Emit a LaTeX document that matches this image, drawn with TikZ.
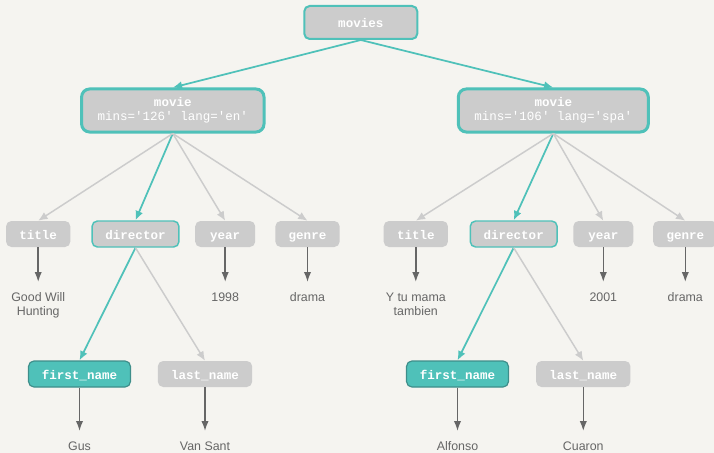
\documentclass[tikz,border=0pt]{standalone}
\usepackage{xcolor}
\usepackage{fontspec}
\setmainfont{Liberation Sans}
\setsansfont{Liberation Sans}
\setmonofont{Liberation Mono}
\usepackage{tikz}
\usetikzlibrary{shapes,arrows.meta,positioning}

\definecolor{bggray}{HTML}{F5F4F0}
\definecolor{boxgray}{HTML}{CCCCCC}
\definecolor{linegray}{HTML}{CCCCCC}
\definecolor{tealline}{HTML}{4FC1B9}
\definecolor{tealdark}{HTML}{3E8E8A}
\definecolor{textgray}{HTML}{666666}

\begin{document}
\begin{tikzpicture}[x=0.75pt,y=-0.75pt]
        % Setup the styles for the elements
        \tikzset{base style/.style={rectangle,
                                    rounded corners=4pt,
                                    fill=boxgray,
                                    text=white,
                                    font=\fontsize{9.4}{10.2}\selectfont\ttfamily\bfseries},
                 field style/.style={base style,
                                     inner xsep=10pt,
                                     text height=7.5pt,
                                     text depth=0pt,
                                     minimum height=19.5pt,
                                     minimum width=45pt},
                 key style/.style={field style, draw=tealline, line width=1.1pt},
                 pick style/.style={field style, fill=tealline, draw=tealdark, line width=0.9pt},
                 root style/.style={field style, draw=tealline, line width=1.5pt,
                                    minimum width=84.75pt, minimum height=24.75pt},
                 movie style/.style={base style, draw=tealline, line width=2.25pt,
                                     rounded corners=6pt, align=center,
                                     inner xsep=12pt, minimum height=32.25pt},
                 value style/.style={anchor=north, align=center, text=textgray,
                                     inner xsep=0pt, inner ysep=8pt,
                                     font=\fontsize{9.3}{10.5}\selectfont\sffamily},
                 teal edge/.style={draw=tealline, line width=1.3pt,
                                   -{Latex[length=7pt,width=6pt]}},
                 gray edge/.style={draw=linegray, line width=1.1pt,
                                   -{Latex[length=7pt,width=6pt]}},
                 value edge/.style={draw=textgray, line width=1.1pt,
                                    -{Latex[length=7.5pt,width=5.5pt]}}}

        % Background
        \path[use as bounding box, fill=bggray] (0,0) rectangle (714,453);

        % Draw the elements
        \node[root style]  at (360.8, 22.5) (movies) {movies};
        \node[movie style] at (172.8, 110.5) (movie1) {movie\\\mdseries mins='126' lang='en'};
        \node[movie style] at (553.3, 110.5) (movie2) {movie\\\mdseries mins='106' lang='spa'};

        \node[field style] at (38.2, 234)  (title1)    {title};
        \node[key style]   at (135.5, 234) (director1) {director};
        \node[field style] at (225.2, 234) (year1)     {year};
        \node[field style] at (307.5, 234) (genre1)    {genre};
        \node[field style] at (415.8, 234) (title2)    {title};
        \node[key style]   at (513.7, 234) (director2) {director};
        \node[field style] at (603.3, 234) (year2)     {year};
        \node[field style] at (685.3, 234) (genre2)    {genre};

        \node[pick style]  at (79.5, 374)  (first1) {first\_name};
        \node[field style] at (205, 374)   (last1)  {last\_name};
        \node[pick style]  at (457.5, 374) (first2) {first\_name};
        \node[field style] at (583.3, 374) (last2)  {last\_name};

        % Draw the values
        \node[value style] at (38.2, 282)  (title1 val)  {Good Will\\Hunting};
        \node[value style] at (225.2, 282) (year1 val)   {1998};
        \node[value style] at (307.5, 282) (genre1 val)  {drama};
        \node[value style] at (415.8, 282) (title2 val)  {Y tu mama\\tambien};
        \node[value style] at (603.3, 282) (year2 val)   {2001};
        \node[value style] at (685.3, 282) (genre2 val)  {drama};
        \node[value style] at (79.5, 431)  (first1 val)  {Gus};
        \node[value style] at (205, 431)   (last1 val)   {Van Sant};
        \node[value style] at (457.5, 431) (first2 val)  {Alfonso};
        \node[value style] at (583.3, 431) (last2 val)   {Cuaron};

        % Connect the elements with arrows
        \path
            (movies.south)    edge[teal edge] (movie1.north)
            (movies.south)    edge[teal edge] (movie2.north)
            (movie1.south)    edge[teal edge] (director1.north)
            (movie2.south)    edge[teal edge] (director2.north)
            (director1.south) edge[teal edge] (first1.north)
            (director2.south) edge[teal edge] (first2.north);

        \path
            (movie1.south)    edge[gray edge] (title1.north)
            (movie1.south)    edge[gray edge] (year1.north)
            (movie1.south)    edge[gray edge] (genre1.north)
            (movie2.south)    edge[gray edge] (title2.north)
            (movie2.south)    edge[gray edge] (year2.north)
            (movie2.south)    edge[gray edge] (genre2.north)
            (director1.south) edge[gray edge] (last1.north)
            (director2.south) edge[gray edge] (last2.north);

        \path
            (title1.south) edge[value edge] (title1 val.north)
            (year1.south)  edge[value edge] (year1 val.north)
            (genre1.south) edge[value edge] (genre1 val.north)
            (title2.south) edge[value edge] (title2 val.north)
            (year2.south)  edge[value edge] (year2 val.north)
            (genre2.south) edge[value edge] (genre2 val.north)
            (first1.south) edge[value edge] (first1 val.north)
            (last1.south)  edge[value edge] (last1 val.north)
            (first2.south) edge[value edge] (first2 val.north)
            (last2.south)  edge[value edge] (last2 val.north);
\end{tikzpicture}
\end{document}
